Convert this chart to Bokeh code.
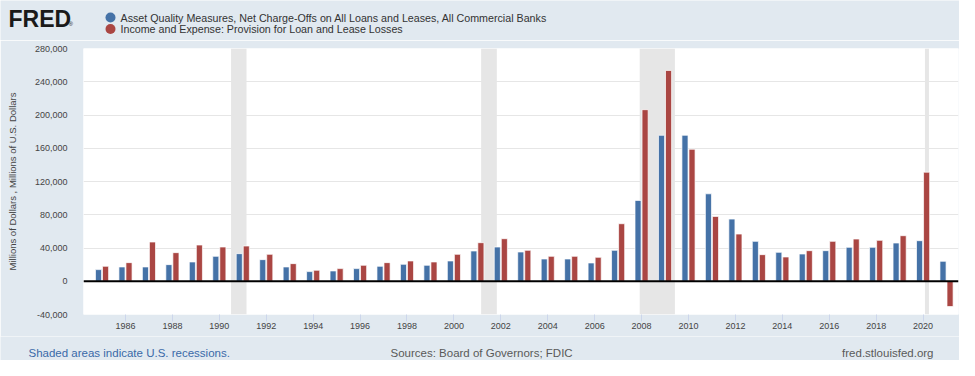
from bokeh.plotting import figure
from bokeh.layouts import column
from bokeh.models import (Range1d, FixedTicker, NumeralTickFormatter, Span,
                          BoxAnnotation, ColumnDataSource)
from bokeh.core.properties import value
from bokeh.transform import dodge
from bokeh.embed import file_html
from bokeh.resources import INLINE

years = list(range(1985, 2022))
net_charge_offs = [14000, 17200, 17200, 20000, 23200, 30000, 33200, 26000, 17200,
                   11600, 12400, 15200, 18000, 20400, 19200, 24400, 36400, 41200,
                   35200, 26800, 26800, 22000, 37200, 97200, 175600, 175600, 105200,
                   74800, 48000, 34800, 32800, 36800, 40800, 40800, 46000, 48800, 24000]
provisions = [18000, 22400, 47200, 34400, 43600, 41200, 42400, 32400, 21200,
              13200, 15200, 19200, 22400, 24400, 23200, 32400, 46400, 51200,
              37200, 30000, 30000, 28800, 69200, 206400, 253600, 158800, 78000,
              56800, 32000, 29200, 36800, 48000, 50800, 49200, 54800, 131200, -30400]
rec_start = [1990.5, 2001.16, 2007.92, 2020.08]
rec_end = [1991.16, 2001.83, 2009.42, 2020.25]
x_ticks = list(range(1986, 2021, 2))
y_ticks = list(range(-40000, 280001, 40000))

series_names = ["Asset Quality Measures, Net Charge-Offs on All Loans and Leases, All Commercial Banks",
                "Income and Expense: Provision for Loan and Lease Losses"]
BLUE = "#4572a7"
RED = "#aa4643"
BG = "#e1e9f0"
FONT = "Liberation Sans"
W = 959


def blank(h):
    f = figure(width=W, height=h, output_backend="svg", toolbar_location=None,
               x_range=Range1d(0, W), y_range=Range1d(h, 0), frame_align=False,
               min_border=0, min_border_left=0, min_border_right=0,
               min_border_top=0, min_border_bottom=0)
    f.axis.visible = False
    f.grid.grid_line_color = None
    f.outline_line_color = None
    f.background_fill_color = BG
    f.border_fill_color = BG
    return f


# ---------- header ----------
hdr = blank(40)
hdr.text(x=[8], y=[18], text=["FRED"], text_font=value(FONT), text_font_size="23px",
         text_font_style="bold", text_color="#1a1a1a", text_baseline="middle")
hdr.text(x=[68], y=[23], text=["\u00ae"], text_font=value(FONT), text_font_size="6px",
         text_color="#1a1a1a", text_baseline="middle")
hdr.scatter(x=[110, 110], y=[17, 28.5], size=10, color=[BLUE, RED], line_color=None)
hdr.text(x=[120, 120], y=[17, 28.5], text=series_names, text_font=value(FONT),
         text_font_size="10.7px", text_color="#333333", text_baseline="middle")

# ---------- main chart ----------
src = ColumnDataSource(dict(year=years, nco=net_charge_offs, prov=provisions))

p = figure(width=W, height=296, output_backend="svg", toolbar_location=None,
           x_range=Range1d(1984.21, 2021.51), y_range=Range1d(-40000, 280000),
           frame_align=False,
           min_border_left=83, min_border_right=1, min_border_top=8, min_border_bottom=22)
p.background_fill_color = "white"
p.border_fill_color = BG
p.outline_line_color = None

for s, e in zip(rec_start, rec_end):
    p.add_layout(BoxAnnotation(left=s, right=e, fill_color="#e6e6e6", fill_alpha=1,
                               line_color=None, level="underlay"))

p.vbar(x=dodge("year", -0.15, range=p.x_range), top="nco", bottom=0, width=0.26, source=src,
       fill_color=BLUE, line_color="white", line_width=1, line_alpha=0.7)
p.vbar(x=dodge("year", 0.15, range=p.x_range), top="prov", bottom=0, width=0.26, source=src,
       fill_color=RED, line_color="white", line_width=1, line_alpha=0.7)

p.add_layout(Span(location=0, dimension="width", line_color="black", line_width=2))

p.xgrid.grid_line_color = None
p.ygrid.grid_line_color = "#e6e6e6"
p.ygrid.ticker = FixedTicker(ticks=y_ticks)

p.yaxis.ticker = FixedTicker(ticks=y_ticks)
p.yaxis.formatter = NumeralTickFormatter(format="0,0")
p.yaxis.axis_line_color = None
p.yaxis.major_tick_line_color = None
p.yaxis.minor_tick_line_color = None
p.yaxis.major_label_standoff = 10
p.yaxis.major_label_text_font = FONT
p.yaxis.major_label_text_font_size = "9px"
p.yaxis.major_label_text_color = "#444444"
p.yaxis.axis_label = "Millions of Dollars , Millions of U.S. Dollars"
p.yaxis.axis_label_text_font = FONT
p.yaxis.axis_label_text_font_style = "normal"
p.yaxis.axis_label_text_font_size = "9.5px"
p.yaxis.axis_label_text_color = "#444444"
p.yaxis.axis_label_standoff = 14

p.xaxis.ticker = FixedTicker(ticks=x_ticks)
p.xaxis.formatter = NumeralTickFormatter(format="0")
p.xaxis.axis_line_color = None
p.xaxis.major_tick_line_color = "#ccd6eb"
p.xaxis.major_tick_out = 7
p.xaxis.major_tick_in = 0
p.xaxis.minor_tick_line_color = None
p.xaxis.major_label_standoff = 1
p.xaxis.major_label_text_font = FONT
p.xaxis.major_label_text_font_size = "9px"
p.xaxis.major_label_text_color = "#444444"

# ---------- footer ----------
ftr = blank(24)
ftr.text(x=[28], y=[16.5], text=["Shaded areas indicate U.S. recessions."], text_font=value(FONT),
         text_font_size="11.5px", text_color="#3a6aa8", text_baseline="middle")
ftr.text(x=[390], y=[16.5], text=["Sources: Board of Governors; FDIC"], text_font=value(FONT),
         text_font_size="11.5px", text_color="#595959", text_baseline="middle")
ftr.text(x=[933], y=[16.5], text=["fred.stlouisfed.org"], text_font=value(FONT),
         text_font_size="11.5px", text_color="#595959", text_baseline="middle", text_align="right")

layout = column(hdr, p, ftr, spacing=0)
html = file_html(layout, INLINE)
html = html.replace("<body>", '<body style="background-color:%s;">' % BG, 1)
open("out.html", "w").write(html)
